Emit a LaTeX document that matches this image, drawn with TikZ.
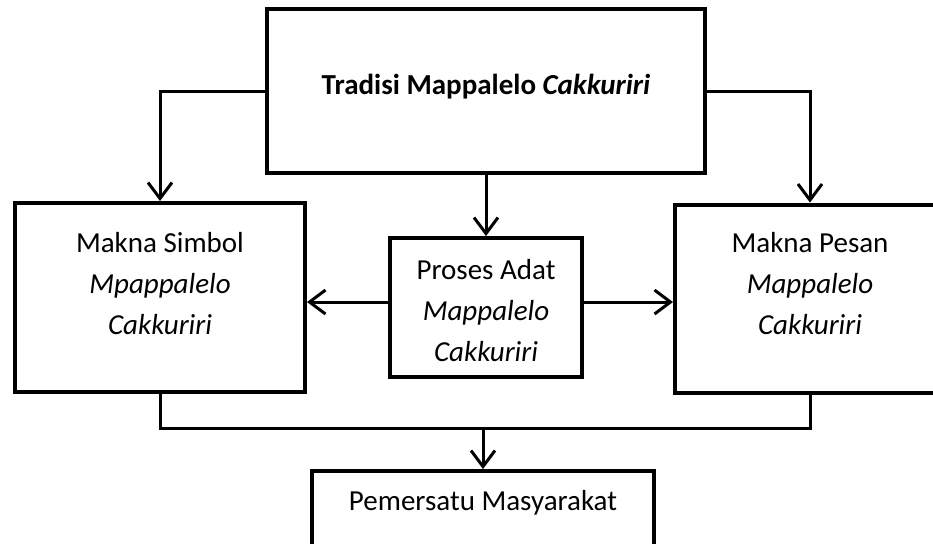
\documentclass[tikz,border=0pt]{standalone}
\usepackage{fontspec}
\setmainfont{Carlito}
\usetikzlibrary{arrows.meta}
\begin{document}
\begin{tikzpicture}
[x=0.5pt,y=-0.5pt,
  boxdecorate/.style={shape=rectangle,draw,line width=2pt,inner sep=0pt},%
  textdecorate/.style={align=center,inner sep=0pt,font=\fontsize{14.5}{20.5}\selectfont},%
  linedecorate/.style={-,line width=1.5pt},%
  arrowdecorate/.style={-{Straight Barb[length=8pt,width=12pt]},line width=1.5pt}]
\clip (0,0) rectangle (933,543);
%% boxes
\foreach \nodename/\x/\y/\w/\h in {tradisi/486/91/219/82, simbol/160/297.5/145/94.5,
  proses/486/307.5/96/69.5, pesan/810/298.5/135/94, pemersatu/483/515.5/171/44.5} {
  \node (\nodename) at (\x,\y) [boxdecorate,minimum width=\w pt,minimum height=\h pt] {};
}
%% texts
\node (tradisi-txt) at ([yshift=2pt]tradisi.center) [textdecorate]
  {\textbf{Tradisi Mappalelo \textit{Cakkuriri}}};
\node (simbol-txt) at ([yshift=6.75pt]simbol.center) [textdecorate]
  {Makna Simbol\\ \textit{Mpappalelo}\\ \textit{Cakkuriri}};
\node (proses-txt) at ([yshift=-1.75pt]proses.center) [textdecorate]
  {Proses Adat\\ \textit{Mappalelo}\\ \textit{Cakkuriri}};
\node (pesan-txt) at ([yshift=7.25pt]pesan.center) [textdecorate]
  {Makna Pesan\\ \textit{Mappalelo}\\ \textit{Cakkuriri}};
\node (pemersatu-txt) at ([yshift=6.25pt]pemersatu.center) [textdecorate]
  {Pemersatu Masyarakat};
%% connectors
\coordinate (merge) at (483,428);
\coordinate (proses-mid) at ([yshift=2.75pt]proses.center);
\draw[arrowdecorate] (tradisi.west) -| (simbol.north);
\draw[arrowdecorate] (tradisi.east) -| (pesan.north);
\draw[linedecorate] (simbol.south) |- (merge) -| (pesan.south);
\path
\foreach \startnode/\endnode in {tradisi.south/proses.north,
  proses-mid -| proses.west/proses-mid -| simbol.east,
  proses-mid -| proses.east/proses-mid -| pesan.west, merge/pemersatu.north} {
  (\startnode) edge[arrowdecorate] (\endnode)
};
\end{tikzpicture}
\end{document}
